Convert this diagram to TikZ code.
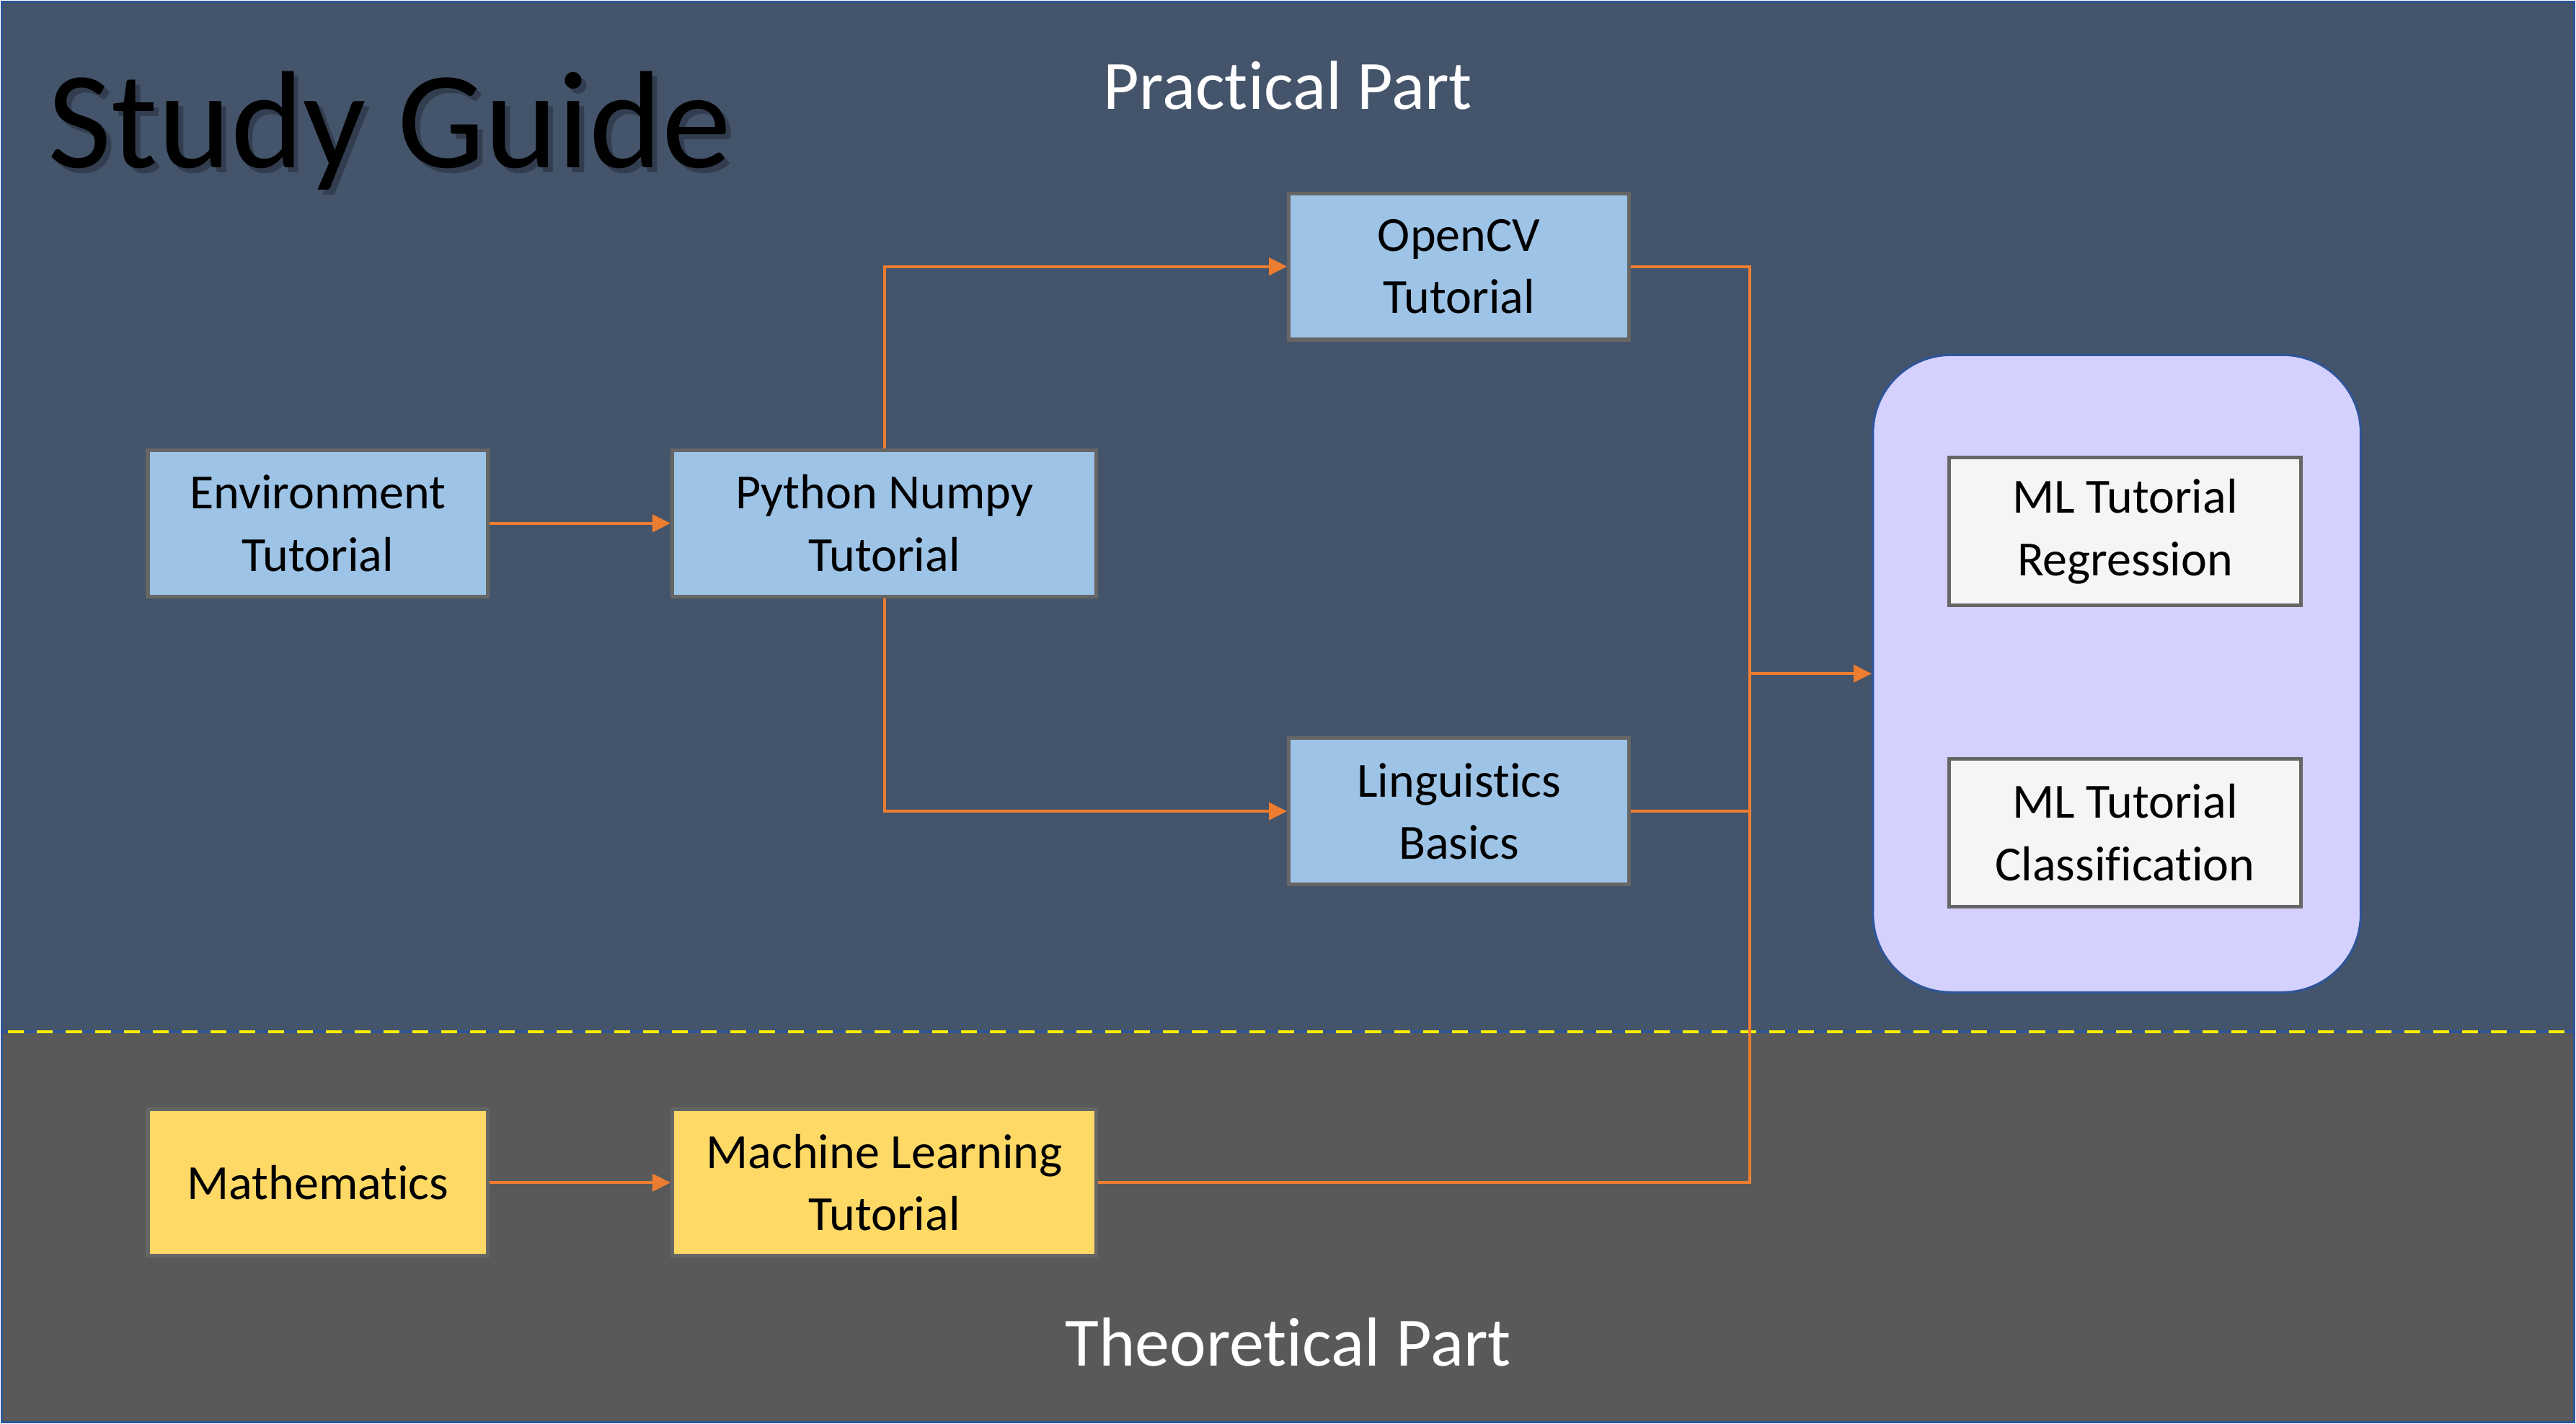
\documentclass[tikz,border=0pt]{standalone}
\usepackage{fontspec}
\setmainfont{Carlito}[Ligatures=NoCommon]
\usetikzlibrary{positioning,arrows.meta}
\definecolor{practicalbg}{HTML}{44546A}
\definecolor{theorybg}{HTML}{595959}
\definecolor{tutblue}{HTML}{9DC3E6}
\definecolor{tutyellow}{HTML}{FFD966}
\definecolor{tutborder}{HTML}{666666}
\definecolor{flow}{HTML}{ED7D31}
\definecolor{mlgroup}{HTML}{D4D1FE}
\definecolor{frameblue}{HTML}{2F5597}
\tikzstyle{tutorial}=[
	rectangle,
	draw=tutborder,
	line width=1.3pt,
	fill=tutblue,
	text=black,
	align=center,
	inner sep=0pt,
	minimum width=4.14cm,
	minimum height=1.78cm
	]
\tikzstyle{widetutorial}=[tutorial, minimum width=5.16cm]
\tikzstyle{theory}=[tutorial, fill=tutyellow]
\tikzstyle{mltask}=[tutorial, fill=white!96!black, minimum width=4.28cm, minimum height=1.8cm]
\tikzstyle{parttitle}=[text=white, font=\fontsize{24}{28}\selectfont]
\tikzstyle{flowline}=[draw=flow, line width=1pt]
\tikzstyle{flowarrow}=[flowline, -{Triangle[length=0.22cm,width=0.21cm]}]

\begin{document}
\begin{tikzpicture}[node distance=2cm, font=\fontsize{17}{21.6}\selectfont]

		\useasboundingbox (0,0) rectangle (31.36,-17.334);
		\filldraw[fill=practicalbg, draw=frameblue, line width=0.8pt] (0.02,-0.02) rectangle (31.34,-12.56);
		\filldraw[fill=theorybg, draw=frameblue, line width=0.8pt] (0.02,-12.56) rectangle (31.34,-17.314);
		\draw[yellow, line width=1pt, dash pattern=on 5.5pt off 4.5pt] (0.1,-12.56) -- (31.36,-12.56);

		\node (TitleShadow) [anchor=base west, text=black, opacity=0.25, font=\fontsize{48}{48}\selectfont] at (0.52,-2.1) {Study Guide};
		\node (Title) [anchor=base west, text=black, font=\fontsize{48}{48}\selectfont] at (0.46,-2.04) {Study Guide};
		\node (PracticalPart) [parttitle] at (15.68,-1.04) {Practical Part};
		\node (TheoreticalPart) [parttitle] at (15.68,-16.34) {Theoretical Part};

		\node (EnvTutorial) [tutorial] at (3.87,-6.37) {Environment \\ Tutorial};
		\node (PyNumpy) [widetutorial, right=2.2cm of EnvTutorial] {Python Numpy \\ Tutorial};
		\node (OpenCV) [tutorial, above right=1.3cm and 2.3cm of PyNumpy] {OpenCV \\ Tutorial};
		\node (Linguistics) [tutorial, below right=1.68cm and 2.3cm of PyNumpy] {Linguistics \\ Basics};

		\node (Mathematics) [theory, below=6.2cm of EnvTutorial] {Mathematics};
		\node (MLTutorial) [theory, minimum width=5.16cm, right=2.2cm of Mathematics] {Machine Learning \\ Tutorial};

		\node (MLGroup) [rectangle, rounded corners=0.95cm, draw=frameblue, line width=0.8pt, fill=mlgroup,
			minimum width=5.94cm, minimum height=7.76cm] at (25.77,-8.2) {};
		\node (MLRegression) [mltask, below=1.24cm of MLGroup.north, xshift=0.1cm] {ML Tutorial \\ Regression};
		\node (MLClassification) [mltask, below=1.82cm of MLRegression] {ML Tutorial \\ Classification};

		\coordinate (Merge) at (21.3,-8.2);

		\draw[flowarrow] (EnvTutorial) -- (PyNumpy);
		\draw[flowarrow] (PyNumpy.north) |- (OpenCV);
		\draw[flowarrow] (PyNumpy.south) |- (Linguistics);
		\draw[flowarrow] (Mathematics) -- (MLTutorial);
		\draw[flowline] (OpenCV) -| (Merge) |- (MLTutorial);
		\draw[flowline] (Linguistics) -- (Linguistics -| Merge);
		\draw[flowarrow] (Merge) -- (MLGroup);

	\end{tikzpicture}
\end{document}
